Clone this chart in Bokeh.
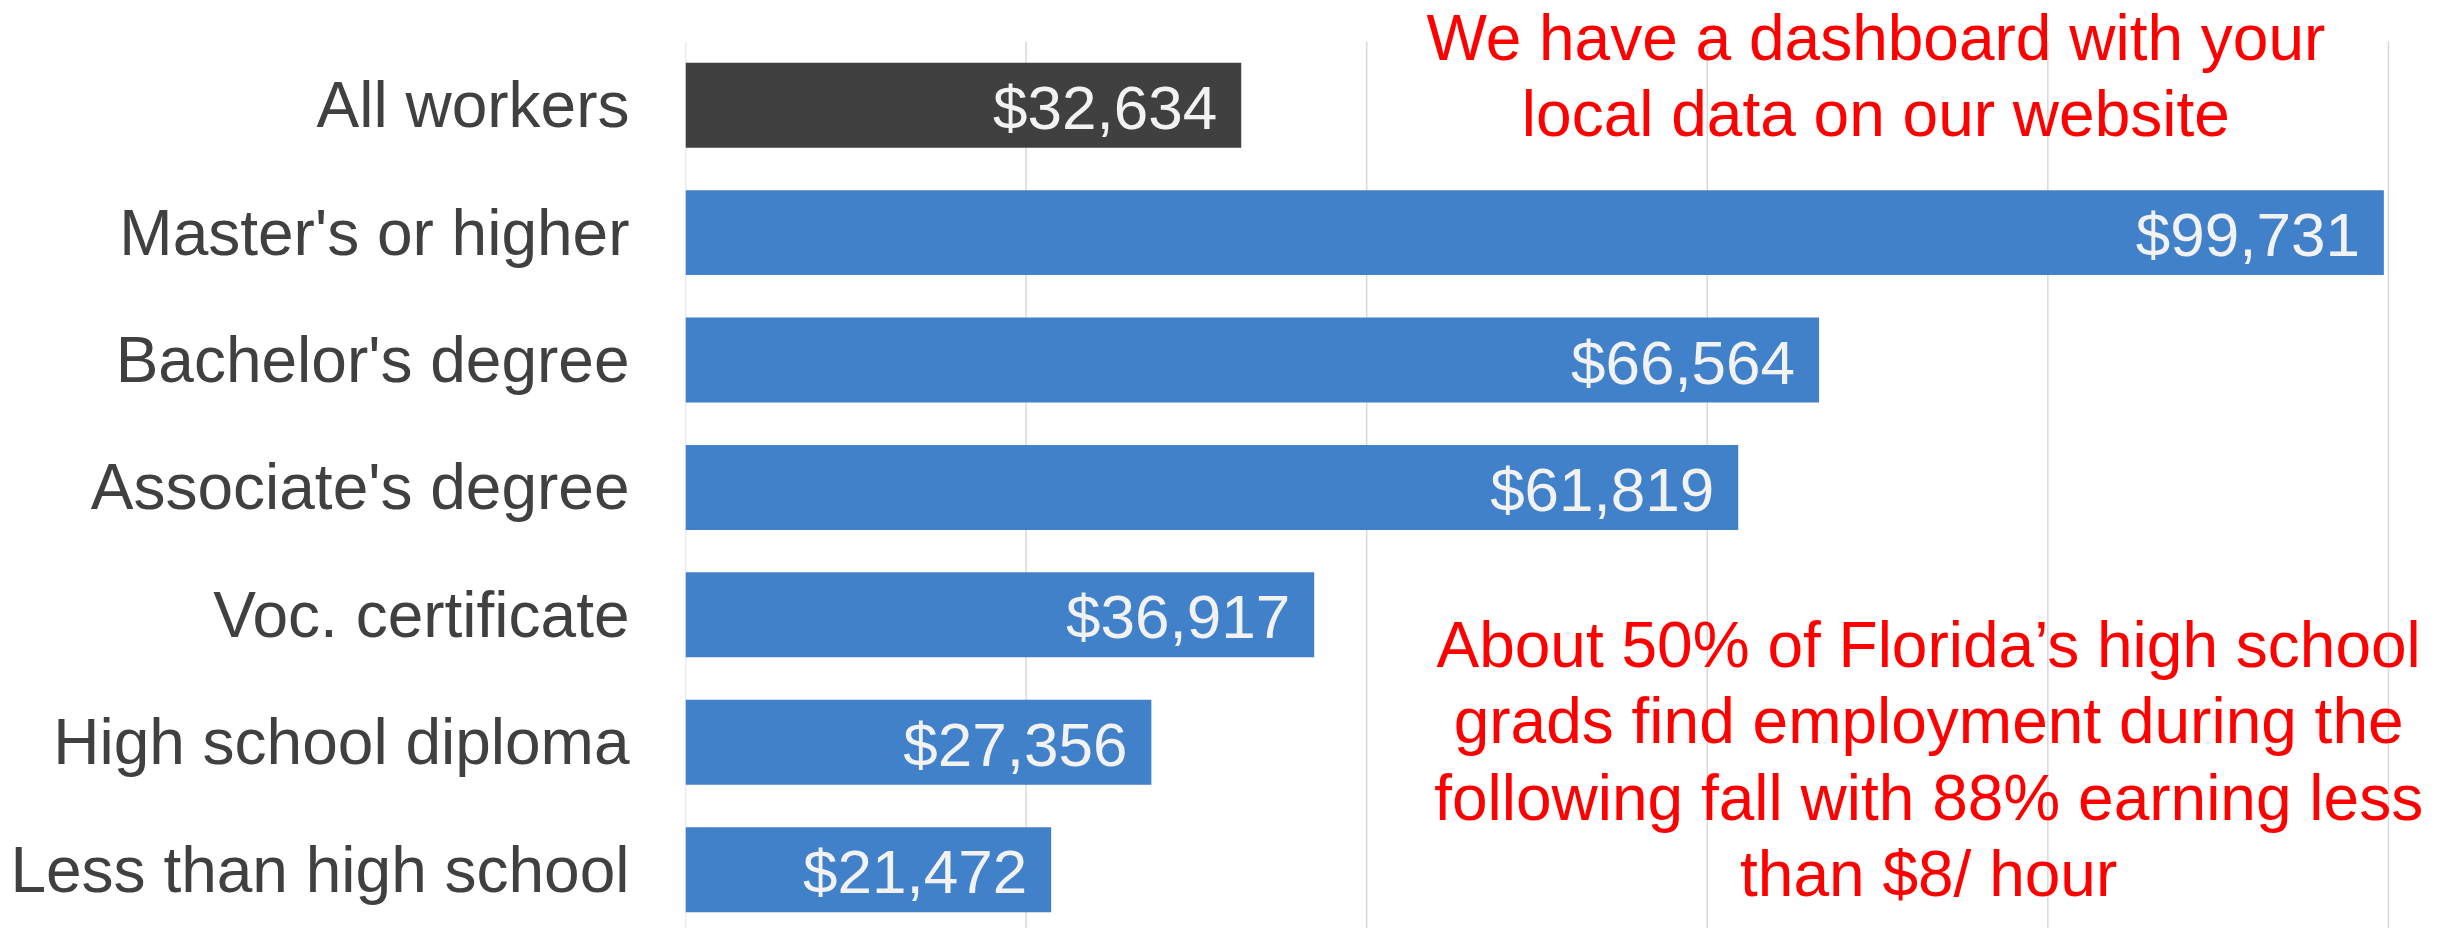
from bokeh.plotting import figure
from bokeh.models import Range1d, FixedTicker, ColumnDataSource, Label
from bokeh.core.properties import value
from bokeh.embed import file_html
from bokeh.resources import INLINE

categories = ["All workers", "Master's or higher", "Bachelor's degree",
              "Associate's degree", "Voc. certificate", "High school diploma",
              "Less than high school"]
earnings = [32634, 99731, 66564, 61819, 36917, 27356, 21472]
labels = ["$32,634", "$99,731", "$66,564", "$61,819", "$36,917", "$27,356", "$21,472"]
bar_colors = ["#383838"] + ["#397CC7"] * 6
grid_ticks = [0, 20000, 40000, 60000, 80000, 100000]

note_top = ["We have a dashboard with your", "local data on our website"]
note_bottom = ["About 50% of Florida\u2019s high school",
               "grads find employment during the",
               "following fall with 88% earning less",
               "than $8/ hour"]

FONT = "Liberation Sans"
ypos = list(range(len(categories)))
Y_BOTTOM = 6.462
Y_TOP = -0.822

p = figure(width=2422, height=928, output_backend="svg", toolbar_location=None,
           x_range=Range1d(0, 102000), y_range=Range1d(Y_BOTTOM, Y_TOP),
           min_border_left=685, min_border_top=0, min_border_bottom=0,
           min_border_right=0)
p.outline_line_color = None
p.background_fill_color = "white"
p.border_fill_color = "white"

# vertical gridlines that start at the top of the category band
p.segment(x0=grid_ticks, x1=grid_ticks, y0=[-0.5] * len(grid_ticks),
          y1=[Y_BOTTOM] * len(grid_ticks), line_color="#d9d9d9",
          line_width=1.5, level="underlay")

src = ColumnDataSource(dict(y=ypos, v=earnings, lab=labels, c=bar_colors))
p.hbar(y="y", left=0, right="v", height=0.667, fill_color="c", line_color=None,
       fill_alpha=0.96, source=src)
p.text(x="v", y="y", text="lab", source=src, x_offset=-24, y_offset=2,
       text_align="right", text_baseline="middle", text_color="#f2f2f2",
       text_font=value(FONT), text_font_size="62px")

p.xaxis.visible = False
p.xgrid.visible = False
p.ygrid.visible = False

ax = p.yaxis[0]
ax.ticker = FixedTicker(ticks=ypos)
ax.major_label_overrides = {i: c for i, c in enumerate(categories)}
ax.major_label_text_font = FONT
ax.major_label_text_font_size = "64px"
ax.major_label_text_color = "#404040"
ax.major_label_standoff = 50
ax.major_tick_line_color = None
ax.minor_tick_line_color = None
ax.axis_line_color = None

top_y = [-0.531, 0.065]
for t, yy in zip(note_top, top_y):
    p.add_layout(Label(x=69900, y=yy, text=t, text_align="center",
                       text_baseline="middle", text_color="#ff0000",
                       text_font=FONT, text_font_size="64px"))
bot_y = [4.233, 4.837, 5.434, 6.031]
for t, yy in zip(note_bottom, bot_y):
    p.add_layout(Label(x=73000, y=yy, text=t, text_align="center",
                       text_baseline="middle", text_color="#ff0000",
                       text_font=FONT, text_font_size="64px"))

open("out.html", "w").write(file_html(p, INLINE))
